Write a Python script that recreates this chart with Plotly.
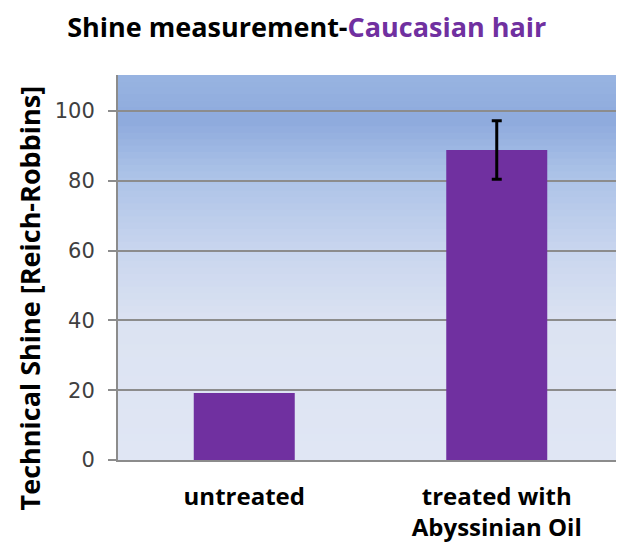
import plotly.graph_objects as go

categories = ["untreated", "treated with<br>Abyssinian Oil"]
shine = [19.2, 88.8]
shine_err = [None, 8.4]
y_ticks = [0, 20, 40, 60, 80, 100]

PURPLE = "#7030a0"
GRID = "#8c8c8c"

fig = go.Figure()
fig.add_trace(go.Bar(
    x=categories, y=shine,
    marker=dict(color=PURPLE, line=dict(width=0)),
    width=0.4,
))
# error bar only where a value exists
err_x = [c for c, e in zip(categories, shine_err) if e is not None]
err_y = [v for v, e in zip(shine, shine_err) if e is not None]
err_v = [e for e in shine_err if e is not None]
fig.add_trace(go.Scatter(
    x=err_x, y=err_y, mode="markers", marker=dict(size=0.1, color="rgba(0,0,0,0)"),
    error_y=dict(type="data", array=err_v, visible=True,
                 color="black", thickness=3, width=5),
    hoverinfo="skip",
))

# vertical gradient background (paper-relative bands of the plot area)
stops = [(0.0, (224, 230, 244)), (0.35, (220, 227, 242)), (0.55, (200, 213, 238)),
         (0.75, (170, 193, 231)), (0.88, (142, 170, 221)), (1.0, (152, 180, 225))]

def col(t):
    for (t0, c0), (t1, c1) in zip(stops[:-1], stops[1:]):
        if t0 <= t <= t1:
            f = (t - t0) / (t1 - t0) if t1 > t0 else 0
            return "rgb(%d,%d,%d)" % tuple(round(a + (b - a) * f) for a, b in zip(c0, c1))
    return "rgb(%d,%d,%d)" % stops[-1][1]

n = 60
shapes = []
for i in range(n):
    y0 = i / n
    y1 = (i + 1) / n + 0.002
    shapes.append(dict(type="rect", xref="x domain", yref="y domain",
                       x0=0, x1=1, y0=y0, y1=min(y1, 1),
                       fillcolor=col((i + 0.5) / n), line=dict(width=0), layer="below"))

fig.update_layout(
    width=616, height=536,
    margin=dict(l=110, r=1, t=67, b=84),
    paper_bgcolor="white", plot_bgcolor="#e0e6f4",
    shapes=shapes,
    showlegend=False,
    bargap=0.6,
    title=dict(
        text="Shine measurement-<span style='color:#7030a0'>Caucasian hair</span>",
        font=dict(family="Open Sans", size=27, color="black", weight="bold"),
        x=0.485, xanchor="center", y=0.982, yanchor="top", xref="container", yref="container"),
    xaxis=dict(
        showgrid=False, showline=True, linecolor=GRID, linewidth=2,
        ticks="", tickfont=dict(family="Open Sans", size=24, color="black", weight="bold"),
        ticklabelstandoff=14,
    ),
    yaxis=dict(
        range=[0, 110.3], tickvals=y_ticks, showgrid=True, gridcolor=GRID, gridwidth=2,
        showline=True, linecolor=GRID, linewidth=2, zeroline=False,
        ticks="outside", ticklen=8, tickwidth=2, tickcolor=GRID,
        tickfont=dict(family="DejaVu Sans", size=21, color="#404040"),
        ticklabelstandoff=9,
    ),
    annotations=[dict(
        text="Technical Shine [Reich-Robbins]", textangle=-90,
        xref="paper", yref="paper", x=-0.176, y=0.42, xanchor="center", yanchor="middle",
        showarrow=False, font=dict(family="Open Sans", size=27, color="black", weight="bold"),
    )],
)

fig.write_html("out.html")
